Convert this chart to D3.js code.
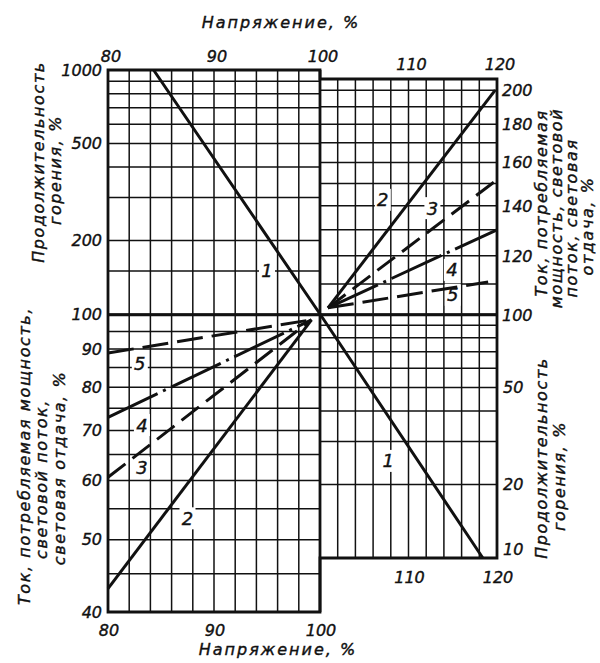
<!DOCTYPE html>
<html>
<head>
<meta charset="utf-8">
<script src="https://cdn.jsdelivr.net/npm/d3@7"></script>
<style>
body { margin: 0; background: #fff; }
text { font-family: "DejaVu Sans", sans-serif; font-style: italic; fill: #111; stroke: #111; stroke-width: 0.4px; }
</style>
</head>
<body>
<script>
// voltage grid, every 2 %
var voltGrid = [80,82,84,86,88,90,92,94,96,98,100,102,104,106,108,110,112,114,116,118,120];
var voltLabelsTop = [80,90,100,110,120];
var voltLabelsBottom = [80,90,100,110,120];

// burning time grid (log), upper-left and lower-right panels
var lifeGridUpper = [100,150,200,300,400,500,600,700,800,900,1000];
var lifeGridLower = [10,20,30,40,50,60,70,80,90,100];
var lifeLabelsLeft = [1000,500,200,100];
var lifeLabelsRight = [50,20,10];

// current / power / flux / efficacy grid (log), lower-left and upper-right
var pctGridLower = [40,45,50,55,60,65,70,75,80,85,90,95,100];
var pctGridUpper = [100,110,120,130,140,150,160,170,180,190,200];
var pctLabelsLeft = [90,80,70,60,50,40];
var pctLabelsRight = [200,180,160,140,120,100];

// curve 1 : burning time
var lifeCurve = [[84.3,1000],[100,100],[118.4,10]];

// curves 2..5 : value at 80 % and at the right end
var curveNames = ["2","3","4","5"];
var startValue = [43, 60.6, 72.9, 88.9];
var endVolt = [119.8, 120, 120, 119];
var endValue = [200, 151.7, 130, 110.7];
var meetLeft = [99.2, 98.5],
    meetRight = [100.9, 102.2];

// where the curve numbers sit (voltage, value)
var lifeLabels = [[95.0,151],[107.7,25]];
var curveLabelsUp = [[107.1,142.6],[112.7,139],[114.9,114.9],[115.0,106.4]];
var curveLabelsDown = [[87.5,53.4],[83.2,62.4],[83.2,71.2],[83.0,86.2]];

var dashes = ["none", "22,9", "55,6,3,6", "26,9"];

var w = 600, h = 663;

var x = d3.scaleLinear().domain([80,100,120]).range([108,320,497]);
var yLife = d3.scaleLog().domain([10,1000]).range([558,70]);
var yPct = d3.scaleLog().domain([40,207]).range([612,79]);

var svg = d3.select("body").append("svg")
	.attr("width", w)
	.attr("height", h);

function grid(vMin, vMax, yScale, yVals, yMin, yMax){
	var g = svg.append("g").attr("stroke","#111").attr("stroke-width",1.5);
	g.selectAll(null).data(voltGrid.filter(function(v){return v>=vMin && v<=vMax;}))
		.enter().append("line")
		.attr("x1", function(d){return x(d)}).attr("x2", function(d){return x(d)})
		.attr("y1", yScale(yMin)).attr("y2", yScale(yMax));
	g.selectAll(null).data(yVals).enter().append("line")
		.attr("x1", x(vMin)).attr("x2", x(vMax))
		.attr("y1", function(d){return yScale(d)}).attr("y2", function(d){return yScale(d)});
}

grid(80,100,yLife,lifeGridUpper,100,1000);
grid(100,120,yPct,pctGridUpper,100,207);
grid(80,100,yPct,pctGridLower,40,100);
grid(100,120,yLife,lifeGridLower,10,100);

// thick frame
var frame = [
	[x(80), yLife(1000)], [x(100), yLife(1000)], [x(100), yPct(207)], [x(120), yPct(207)],
	[x(120), yLife(10)], [x(100), yLife(10)], [x(100), yPct(40)], [x(80), yPct(40)]
];
svg.append("path")
	.attr("d", "M" + frame.join("L") + "Z")
	.attr("fill","none").attr("stroke","#111").attr("stroke-width",2.8);
svg.append("line")
	.attr("x1", x(100)).attr("x2", x(100)).attr("y1", yLife(1000)).attr("y2", yPct(40))
	.attr("stroke","#111").attr("stroke-width",2.8);
svg.append("line")
	.attr("x1", x(80)).attr("x2", x(120)).attr("y1", yPct(100)).attr("y2", yPct(100))
	.attr("stroke","#111").attr("stroke-width",2.8);

// labels on curves, white patch under each number
function curveLabel(txt, p, yScale){
	var cx = x(p[0]), cy = yScale(p[1]);
	svg.append("rect").attr("x", cx-8).attr("y", cy-11).attr("width",16).attr("height",22)
		.attr("fill","#fff");
	svg.append("text").attr("x", cx).attr("y", cy).attr("dy","0.36em")
		.attr("text-anchor","middle").style("font-size","18px")
		.text(txt);
}
lifeLabels.forEach(function(p){ curveLabel("1", p, yLife); });
curveNames.forEach(function(n,i){
	curveLabel(n, curveLabelsUp[i], yPct);
	curveLabel(n, curveLabelsDown[i], yPct);
});

// curves
var lineLife = d3.line().x(function(d){return x(d[0])}).y(function(d){return yLife(d[1])});
var linePct = d3.line().x(function(d){return x(d[0])}).y(function(d){return yPct(d[1])});

svg.append("path").attr("d", lineLife(lifeCurve))
	.attr("fill","none").attr("stroke","#111").attr("stroke-width",3);

curveNames.forEach(function(n,i){
	var left = [[80,startValue[i]], meetLeft];
	var right = [meetRight, [endVolt[i], endValue[i]]];
	[left,right].forEach(function(seg){
		svg.append("path").attr("d", linePct(seg))
			.attr("fill","none").attr("stroke","#111").attr("stroke-width",3)
			.attr("stroke-dasharray", dashes[i]);
	});
});

// tick labels
var fs = "16px";
svg.selectAll(null).data(voltLabelsTop).enter().append("text")
	.attr("x", function(d){return x(d)+3})
	.attr("y", function(d){return d>100 ? 70 : 62})
	.attr("text-anchor","middle").style("font-size",fs)
	.text(function(d){return d});
svg.selectAll(null).data(voltLabelsBottom).enter().append("text")
	.attr("x", function(d){return x(d)+1})
	.attr("y", function(d){return d>100 ? 583 : 636})
	.attr("text-anchor","middle").style("font-size",fs)
	.text(function(d){return d});
svg.selectAll(null).data(lifeLabelsLeft).enter().append("text")
	.attr("x", 102).attr("y", function(d){return yLife(d)}).attr("dy","0.36em")
	.attr("text-anchor","end").style("font-size",fs)
	.text(function(d){return d});
svg.selectAll(null).data(pctLabelsLeft).enter().append("text")
	.attr("x", 102).attr("y", function(d){return yPct(d)}).attr("dy","0.36em")
	.attr("text-anchor","end").style("font-size",fs)
	.text(function(d){return d});
svg.selectAll(null).data(pctLabelsRight).enter().append("text")
	.attr("x", 502).attr("y", function(d){return yPct(d)}).attr("dy","0.36em")
	.style("font-size",fs)
	.text(function(d){return d});
svg.selectAll(null).data(lifeLabelsRight).enter().append("text")
	.attr("x", 503).attr("y", function(d){return d==10 ? yLife(d)-9 : yLife(d)}).attr("dy","0.36em")
	.style("font-size",fs)
	.text(function(d){return d});

// axis titles
svg.append("text").attr("x",281).attr("y",28).attr("text-anchor","middle")
	.style("font-size","16px").style("letter-spacing","2px").text("Напряжение, %");
svg.append("text").attr("x",278).attr("y",655).attr("text-anchor","middle")
	.style("font-size","16px").style("letter-spacing","2px").text("Напряжение, %");

function vTitle(lines){
	lines.forEach(function(l){
		svg.append("text")
			.attr("transform","translate(" + l[1] + "," + l[2] + ") rotate(-90)")
			.attr("text-anchor","middle")
			.style("font-size","16px").style("letter-spacing","1.6px")
			.text(l[0]);
	});
}
vTitle([["Продолжительность",44,162],["горения, %",61,170]]);
vTitle([["Ток, потребляемая мощность,",30,456],["световой поток,",47,479],["световая отдача, %",65,468]]);
vTitle([["Ток, потребляемая",547,203],["мощность, световой",562,208],["поток, световая",577,218],["отдача, %",593,226]]);
vTitle([["Продолжительность",547,458],["горения, %",565,476]]);
</script>
</body>
</html>
